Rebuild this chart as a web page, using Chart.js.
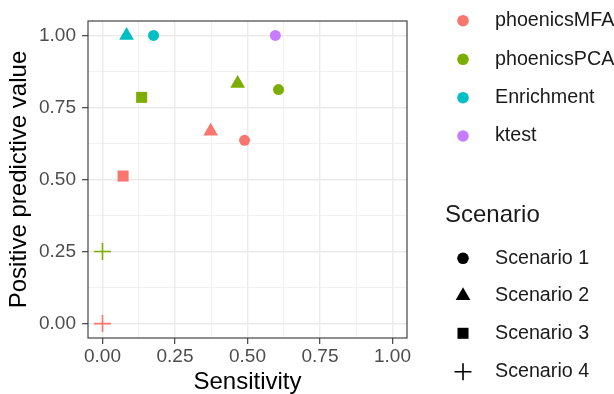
<!DOCTYPE html>
<html>
<head>
<meta charset="utf-8">
<script src="https://cdn.jsdelivr.net/npm/chart.js@4"></script>
<style>
  html, body { margin: 0; padding: 0; background: #ffffff; }
  #wrap { width: 614px; height: 394px; }
</style>
</head>
<body>
<div id="wrap"><canvas id="ppvChart" width="614" height="394"></canvas></div>
<script>
// methods and scenarios
const methods = ['phoenicsMFA', 'phoenicsPCA', 'Enrichment', 'ktest'];
const methodColors = ['#F8766D', '#7CAE00', '#00BFC4', '#C77CFF'];
const scenarios = ['Scenario 1', 'Scenario 2', 'Scenario 3', 'Scenario 4'];
const scenarioShapes = ['circle', 'triangle', 'rect', 'cross'];

// values per method (sensitivity, ppv, scenario index)
const mfaSens = [0.490, 0.373, 0.071, 0.000];
const mfaPpv = [0.636, 0.667, 0.512, 0.000];
const mfaScen = [0, 1, 2, 3];

const pcaSens = [0.607, 0.466, 0.135, 0.000];
const pcaPpv = [0.812, 0.833, 0.785, 0.250];
const pcaScen = [0, 1, 2, 3];

const enrSens = [0.176, 0.083];
const enrPpv = [1.000, 1.000];
const enrScen = [0, 1];

const ktSens = [0.596];
const ktPpv = [1.000];
const ktScen = [0];

const tickVals = [0, 0.125, 0.25, 0.375, 0.5, 0.625, 0.75, 0.875, 1];
const tickLabels = ['0.00', '', '0.25', '', '0.50', '', '0.75', '', '1.00'];

const shapeRadius = { circle: 5.5, triangle: 8.5, rect: 7.8, cross: 8.5 };

function makeSet(idx, sens, ppv, scen) {
    const color = methodColors[idx];
    const styles = scen.map(s => scenarioShapes[s]);
    return {
        label: methods[idx],
        data: sens.map((x, i) => ({ x: x, y: ppv[i] })),
        pointStyle: styles,
        pointRadius: styles.map(s => shapeRadius[s]),
        pointHoverRadius: styles.map(s => shapeRadius[s]),
        pointBorderWidth: styles.map(s => s === 'cross' ? 1.6 : 0),
        pointBackgroundColor: color,
        pointBorderColor: color,
        showLine: false
    };
}

const FONT = '"Liberation Sans", Arial, sans-serif';

// panel border + two legends (colour and shape)
const ggExtras = {
    id: 'ggExtras',
    afterDatasetsDraw(chart) {
        const ctx = chart.ctx;
        const a = chart.chartArea;
        ctx.save();
        ctx.strokeStyle = '#333333';
        ctx.lineWidth = 1.1;
        ctx.strokeRect(a.left, a.top, a.right - a.left, a.bottom - a.top);

        const keyX = 463;
        const textX = 495;
        ctx.textBaseline = 'middle';
        ctx.textAlign = 'left';
        ctx.font = '19.7px ' + FONT;

        const colorY = [20.7, 59.3, 97.7, 136];
        methods.forEach((m, i) => {
            ctx.fillStyle = methodColors[i];
            Chart.helpers.drawPoint(ctx, { pointStyle: 'circle', radius: 5.8, borderWidth: 0, rotation: 0 }, keyX, colorY[i]);
            ctx.fillStyle = '#1a1a1a';
            ctx.fillText(m, textX, colorY[i]);
        });

        ctx.fillStyle = '#1a1a1a';
        ctx.font = '24px ' + FONT;
        ctx.fillText('Scenario', 445, 215);

        ctx.font = '19.7px ' + FONT;
        const shapeY = [258.3, 295.7, 333.3, 371.7];
        scenarios.forEach((s, i) => {
            const st = scenarioShapes[i];
            ctx.fillStyle = '#000000';
            ctx.strokeStyle = '#000000';
            ctx.lineWidth = 1.6;
            Chart.helpers.drawPoint(ctx, {
                pointStyle: st,
                radius: st === 'circle' ? 5.8 : shapeRadius[st],
                borderWidth: st === 'cross' ? 1.6 : 0,
                rotation: 0
            }, keyX, shapeY[i]);
            ctx.fillStyle = '#1a1a1a';
            ctx.fillText(s, textX, shapeY[i]);
        });
        ctx.restore();
    }
};

function gridColor(c) {
    return '#EBEBEB';
}
function gridWidth(c) {
    return c.index % 2 === 0 ? 1.4 : 0.7;
}
function tickCol(c) {
    return c.index % 2 === 0 ? '#333333' : 'rgba(0,0,0,0)';
}

const ctx = document.getElementById('ppvChart').getContext('2d');
new Chart(ctx, {
    type: 'scatter',
    data: {
        datasets: [
            makeSet(0, mfaSens, mfaPpv, mfaScen),
            makeSet(1, pcaSens, pcaPpv, pcaScen),
            makeSet(2, enrSens, enrPpv, enrScen),
            makeSet(3, ktSens, ktPpv, ktScen)
        ]
    },
    options: {
        responsive: false,
        animation: false,
        layout: { padding: { left: 0, top: 21, right: 207, bottom: 0 } },
        scales: {
            x: {
                type: 'linear',
                min: -0.05,
                max: 1.05,
                afterBuildTicks: scale => { scale.ticks = tickVals.map(v => ({ value: v })); },
                afterFit: scale => { scale.height = 56; },
                ticks: {
                    autoSkip: false,
                    maxRotation: 0,
                    padding: 3.5,
                    color: '#4D4D4D',
                    font: { family: FONT, size: 19, lineHeight: 1 },
                    callback: (v, i) => tickLabels[i]
                },
                grid: {
                    color: gridColor,
                    lineWidth: gridWidth,
                    tickColor: tickCol,
                    tickWidth: 1.1,
                    tickLength: 6
                },
                border: { display: false },
                title: {
                    display: true,
                    text: 'Sensitivity',
                    color: '#000000',
                    font: { family: FONT, size: 24, lineHeight: 1 },
                    padding: { top: 0, bottom: 0 }
                }
            },
            y: {
                type: 'linear',
                min: -0.05,
                max: 1.05,
                afterBuildTicks: scale => { scale.ticks = tickVals.map(v => ({ value: v })); },
                afterFit: scale => { scale.width = 88; },
                ticks: {
                    autoSkip: false,
                    padding: 6,
                    color: '#4D4D4D',
                    font: { family: FONT, size: 19, lineHeight: 1 },
                    callback: (v, i) => tickLabels[i]
                },
                grid: {
                    color: gridColor,
                    lineWidth: gridWidth,
                    tickColor: tickCol,
                    tickWidth: 1.1,
                    tickLength: 6
                },
                border: { display: false },
                title: {
                    display: true,
                    text: 'Positive predictive value',
                    color: '#000000',
                    font: { family: FONT, size: 24, lineHeight: 1 },
                    padding: { top: 7, bottom: 0 }
                }
            }
        },
        plugins: {
            legend: { display: false },
            tooltip: { enabled: false }
        }
    },
    plugins: [ggExtras]
});
</script>
</body>
</html>
